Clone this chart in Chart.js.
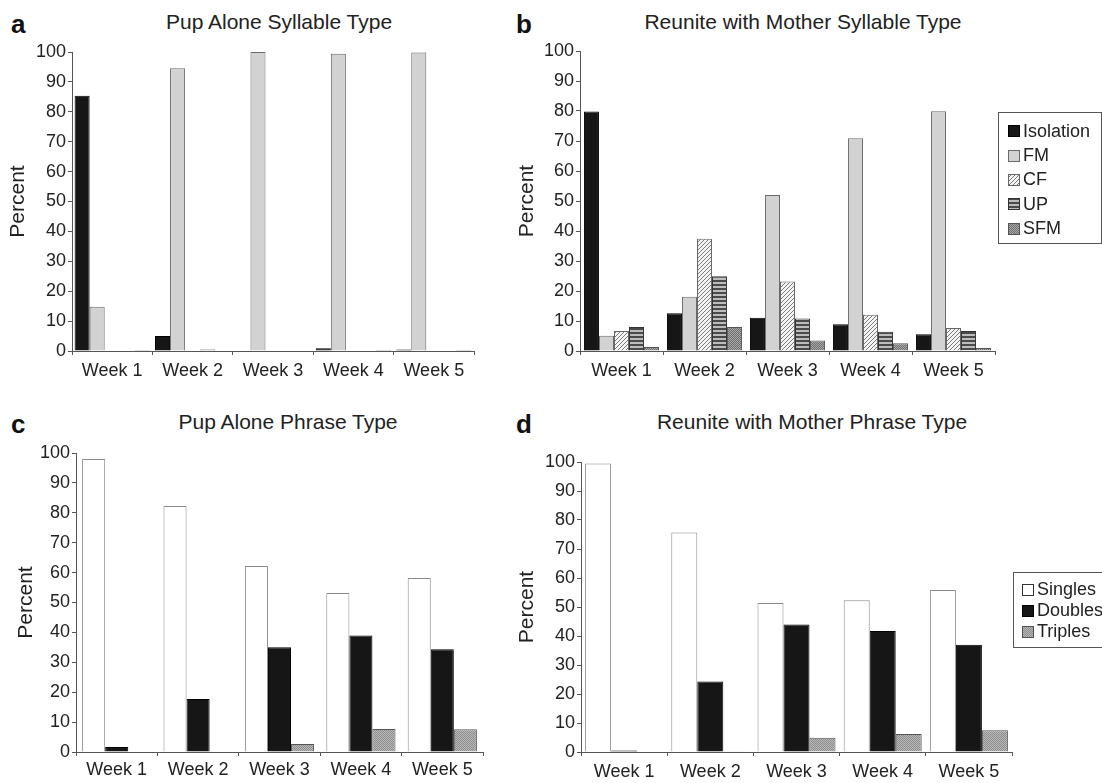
<!DOCTYPE html>
<html>
<head>
<meta charset="utf-8">
<script src="https://cdn.jsdelivr.net/npm/chart.js@4.4.0/dist/chart.umd.min.js"></script>
<style>
  html, body { margin: 0; padding: 0; background: #fff; overflow: hidden; }
  body { width: 1102px; height: 783px; position: relative; font-family: "Liberation Sans", Arial, Helvetica, sans-serif; color: #222; }
  .panel { position: absolute; }
  .letter { position: absolute; font-weight: bold; font-size: 26px; line-height: 1; color: #111; }
  .title { position: absolute; font-size: 21px; line-height: 1; white-space: nowrap; transform: translateX(-50%); }
  .legend { position: absolute; border: 1px solid #555; background: #fff; font-size: 18px; box-sizing: border-box; }
  .legend .row { display: flex; align-items: center; white-space: nowrap; }
  .legend canvas { margin-right: 3px; }
</style>
</head>
<body>

<div class="letter" style="left:11px;top:11px">a</div>
<div class="letter" style="left:516px;top:11px">b</div>
<div class="letter" style="left:11px;top:411px">c</div>
<div class="letter" style="left:516px;top:411px">d</div>

<div class="title" style="left:279px;top:11px">Pup Alone Syllable Type</div>
<div class="title" style="left:803px;top:11px">Reunite with Mother Syllable Type</div>
<div class="title" style="left:288px;top:411px">Pup Alone Phrase Type</div>
<div class="title" style="left:812px;top:411px">Reunite with Mother Phrase Type</div>

<div class="panel" style="left:0;top:0"><canvas id="chartA" width="490" height="390"></canvas></div>
<div class="panel" style="left:500px;top:0"><canvas id="chartB" width="602" height="390"></canvas></div>
<div class="panel" style="left:0;top:395px"><canvas id="chartC" width="490" height="388"></canvas></div>
<div class="panel" style="left:500px;top:395px"><canvas id="chartD" width="602" height="388"></canvas></div>

<div class="legend" id="legendB" style="left:998px;top:112px;width:104px;height:132px;padding:6px 0 0 9px"></div>
<div class="legend" id="legendD" style="left:1013px;top:572px;width:110px;height:76px;padding:6px 0 0 8px"></div>

<script>
// categories / series names
const weeks = ['Week 1', 'Week 2', 'Week 3', 'Week 4', 'Week 5'];
const syllableTypes = ['Isolation', 'FM', 'CF', 'UP', 'SFM'];
const phraseTypes = ['Singles', 'Doubles', 'Triples'];
const percentTicks = [0, 10, 20, 30, 40, 50, 60, 70, 80, 90, 100];

// a: pup alone, syllable type
const aloneIsolation = [85.4, 5.0, 0, 0.9, 0.5];
const aloneFM = [14.8, 94.6, 100, 99.4, 99.8];
const aloneCF = [0, 0.2, 0, 0, 0];
const aloneUP = [0, 0.5, 0, 0, 0];
const aloneSFM = [0.3, 0, 0, 0.3, 0.3];

// b: reunite with mother, syllable type
const reuniteIsolation = [79.8, 12.6, 11.1, 8.9, 5.6];
const reuniteFM = [5.1, 18.1, 52.0, 70.9, 79.9];
const reuniteCF = [6.7, 37.4, 23.2, 12.1, 7.7];
const reuniteUP = [8.0, 24.9, 10.8, 6.4, 6.7];
const reuniteSFM = [1.3, 8.0, 3.5, 2.6, 1.0];

// c: pup alone, phrase type
const aloneSingles = [98.0, 82.3, 62.2, 53.2, 58.2];
const aloneDoubles = [1.7, 17.7, 35.0, 39.0, 34.4];
const aloneTriples = [0.2, 0, 2.7, 7.7, 7.6];

// d: reunite with mother, phrase type
const reuniteSingles = [99.5, 75.7, 51.4, 52.3, 55.9];
const reuniteDoubles = [0.5, 24.3, 44.0, 41.7, 37.0];
const reuniteTriples = [0, 0.3, 4.9, 6.2, 7.5];

Chart.defaults.font.family = '"Liberation Sans", Arial, Helvetica, sans-serif';
Chart.defaults.color = '#222';
const AXIS = '#555';

// tiny pixel patterns for the hatched / striped / stippled fills
function pixelPattern(size, pick) {
  const c = document.createElement('canvas');
  c.width = c.height = size;
  const g = c.getContext('2d');
  for (let y = 0; y < size; y++) {
    for (let x = 0; x < size; x++) {
      g.fillStyle = pick(x, y);
      g.fillRect(x, y, 1, 1);
    }
  }
  return g.createPattern(c, 'repeat');
}

const styles = {
  Isolation: { fill: '#161616', border: '#000' },
  FM: { fill: '#d2d2d2', border: '#6a6a6a' },
  CF: { fill: pixelPattern(4, (x, y) => (x + y) % 4 === 3 ? '#7a7a7a' : '#f4f4f4'), border: '#666' },
  UP: { fill: pixelPattern(4, (x, y) => y < 2 ? '#4a4a4a' : '#bcbcbc'), border: '#333' },
  SFM: { fill: pixelPattern(2, (x, y) => (x + y) % 2 ? '#6e6e6e' : '#aaaaaa'), border: '#555' },
  Singles: { fill: '#ffffff', border: '#8a8a8a' },
  Doubles: { fill: '#161616', border: '#000' },
  Triples: { fill: pixelPattern(2, (x, y) => (x + y) % 2 ? '#8e8e8e' : '#b8b8b8'), border: '#555' }
};

function dataset(label, values) {
  return {
    label,
    data: values,
    backgroundColor: styles[label].fill,
    borderColor: styles[label].border,
    borderWidth: 1
  };
}

function barChart(id, datasets, o) {
  return new Chart(document.getElementById(id), {
    type: 'bar',
    data: { labels: weeks, datasets },
    options: {
      responsive: false,
      animation: false,
      events: [],
      layout: { padding: { top: o.top, right: o.right, left: 0, bottom: 0 } },
      datasets: { bar: { categoryPercentage: o.cat, barPercentage: 1 } },
      plugins: { legend: { display: false }, tooltip: { enabled: false } },
      scales: {
        x: {
          grid: { offset: true, drawOnChartArea: false, tickLength: 4, color: AXIS },
          border: { color: AXIS },
          ticks: { font: { size: 18 }, color: '#222', padding: o.xpad },
          afterFit: s => { s.height = o.xh; }
        },
        y: {
          min: 0,
          max: 100,
          afterBuildTicks: s => { s.ticks = percentTicks.map(v => ({ value: v })); },
          grid: { drawOnChartArea: false, tickLength: 4, color: AXIS },
          border: { color: AXIS },
          ticks: { font: { size: 18 }, color: '#222', padding: 2 },
          title: { display: true, text: 'Percent', font: { size: 21 }, color: '#222', padding: { top: o.tpad, bottom: 0 } },
          afterFit: s => { s.width = o.yw; }
        }
      }
    }
  });
}

barChart('chartA', [
  dataset('Isolation', aloneIsolation),
  dataset('FM', aloneFM),
  dataset('CF', aloneCF),
  dataset('UP', aloneUP),
  dataset('SFM', aloneSFM)
], { top: 52, right: 16, yw: 72, xh: 39, cat: 0.935, xpad: 5, tpad: 6 });

barChart('chartB', [
  dataset('Isolation', reuniteIsolation),
  dataset('FM', reuniteFM),
  dataset('CF', reuniteCF),
  dataset('UP', reuniteUP),
  dataset('SFM', reuniteSFM)
], { top: 51, right: 107, yw: 80, xh: 39, cat: 0.905, xpad: 5, tpad: 15 });

barChart('chartC', [
  dataset('Singles', aloneSingles),
  dataset('Doubles', aloneDoubles),
  dataset('Triples', aloneTriples)
], { top: 58, right: 7, yw: 76, xh: 31, cat: 0.85, xpad: 3, tpad: 14 });

barChart('chartD', [
  dataset('Singles', reuniteSingles),
  dataset('Doubles', reuniteDoubles),
  dataset('Triples', reuniteTriples)
], { top: 67, right: 90, yw: 81, xh: 31, cat: 0.905, xpad: 5, tpad: 15 });

// boxed legends with small pattern swatches
function buildLegend(id, names, rowHeight) {
  const box = document.getElementById(id);
  names.forEach(name => {
    const row = document.createElement('div');
    row.className = 'row';
    row.style.height = rowHeight + 'px';
    const sw = document.createElement('canvas');
    sw.width = 12;
    sw.height = 12;
    const g = sw.getContext('2d');
    g.fillStyle = styles[name].border === '#8a8a8a' ? '#333' : styles[name].border;
    g.fillRect(0, 0, 12, 12);
    g.fillStyle = styles[name].fill;
    g.fillRect(1, 1, 10, 10);
    row.appendChild(sw);
    const label = document.createElement('span');
    label.textContent = name;
    row.appendChild(label);
    box.appendChild(row);
  });
}

buildLegend('legendB', syllableTypes, 24.4);
buildLegend('legendD', phraseTypes, 21);
</script>
</body>
</html>
